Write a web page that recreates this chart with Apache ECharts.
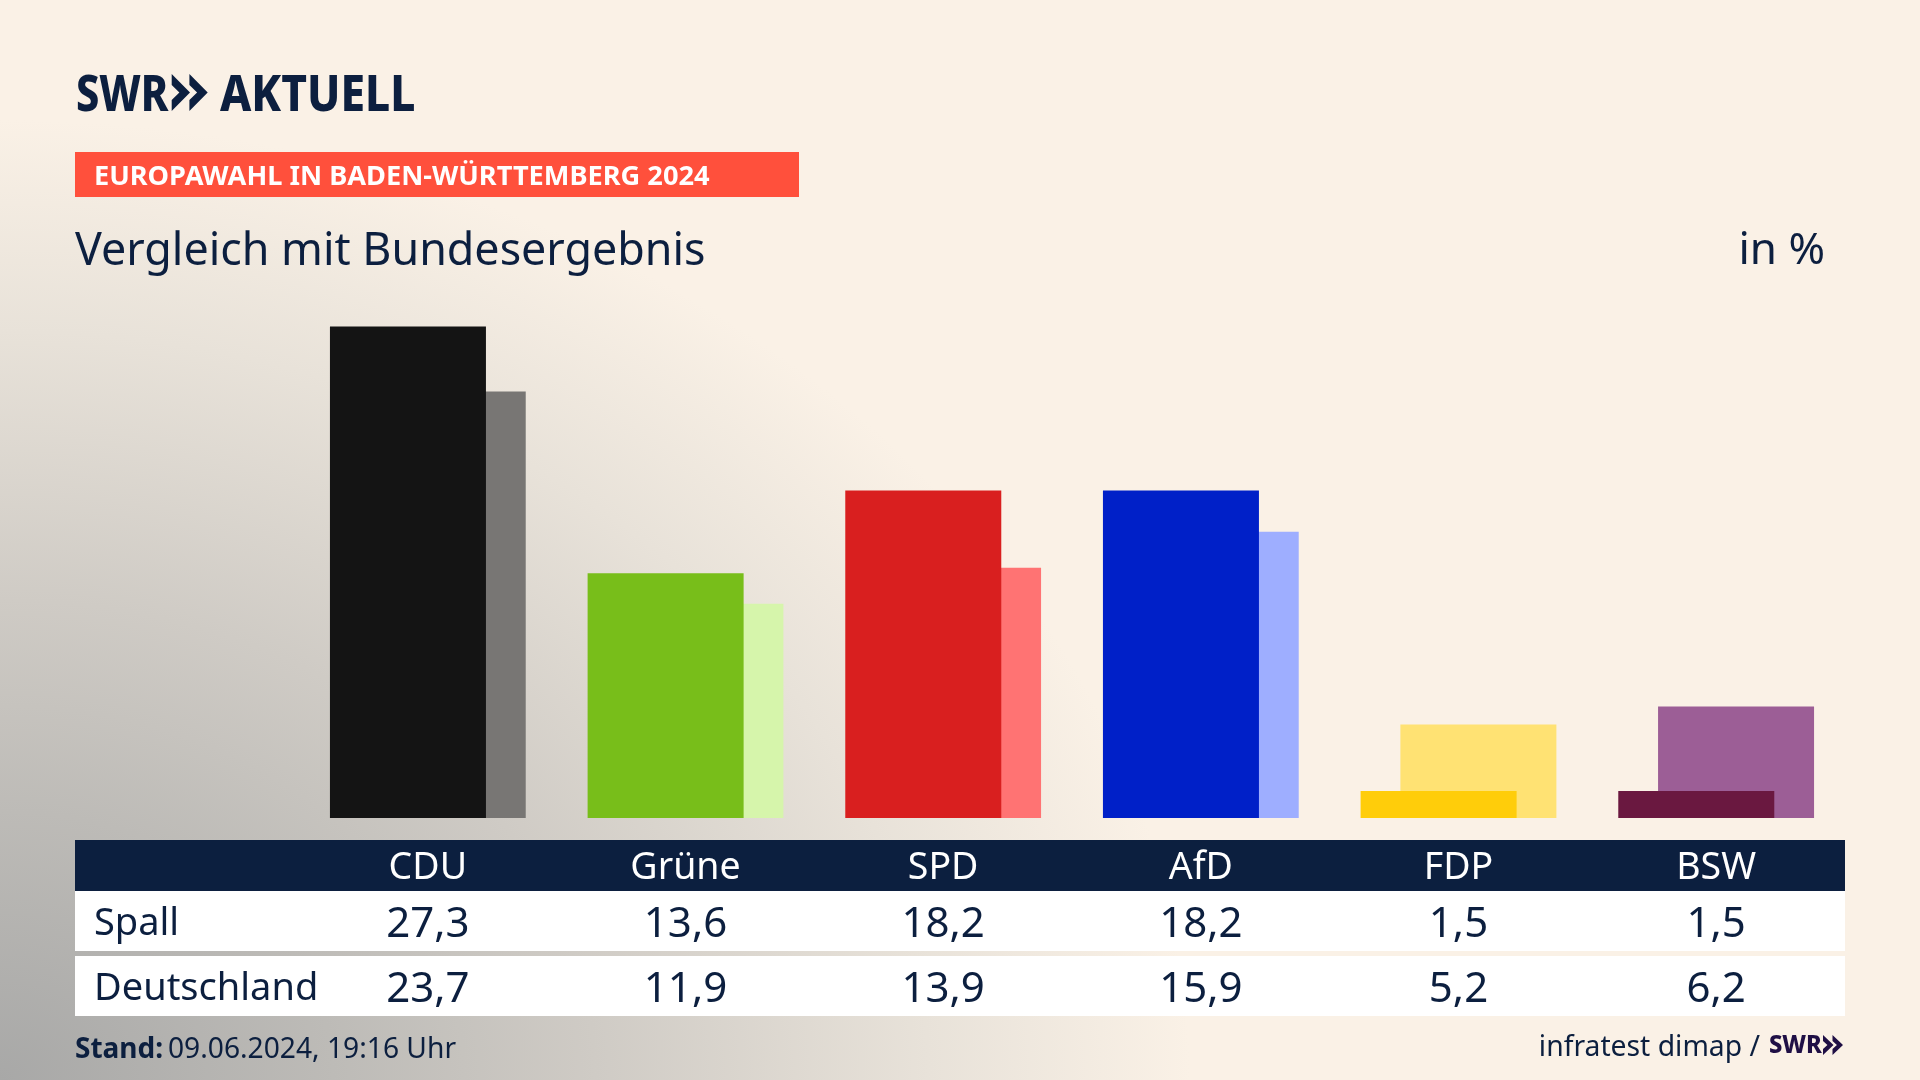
<!DOCTYPE html>
<html>
<head>
<meta charset="utf-8">
<title>Europawahl in Baden-Württemberg 2024</title>
<style>
  html, body { margin: 0; padding: 0; }
  #chart {
    width: 1920px;
    height: 1080px;
    background: radial-gradient(ellipse 1190px 960px at 0 1080px,
      #A8A8A7 0%, #BDBBB7 28%, #CFCBC5 50%, #E8E2D9 78%, #FAF1E6 100%) #FAF1E6;
  }
</style>
<script src="https://cdn.jsdelivr.net/npm/echarts@6/dist/echarts.min.js"></script>
</head>
<body>
<div id="chart"></div>
<script>
var categories = ['CDU', 'Grüne', 'SPD', 'AfD', 'FDP', 'BSW'];
var spall = [27.3, 13.6, 18.2, 18.2, 1.5, 1.5];
var deutschland = [23.7, 11.9, 13.9, 15.9, 5.2, 6.2];
var darkColors = ['#141414', '#78BE1A', '#D91F1F', '#0020C8', '#FFCD0A', '#6A1840'];
var lightColors = ['#787674', '#D6F5AB', '#FF7373', '#9EAEFF', '#FFE273', '#9C5E96'];

var navy = '#0C1F3F';
var font = '"Noto Sans", sans-serif';

function comma(v) {
  return v.toFixed(1).replace('.', ',');
}

function colored(values, colors) {
  return values.map(function(v, i) {
    return { value: v, itemStyle: { color: colors[i] } };
  });
}

function tableAxis(data, margin, fontSize, color) {
  return {
    type: 'category',
    data: data,
    position: 'bottom',
    z: 5,
    axisLine: { show: false },
    axisTick: { show: false },
    axisLabel: { interval: 0, margin: margin, fontFamily: font, fontSize: fontSize, color: color }
  };
}

function label(text, x, y, size, weight, color, align, scaleX) {
  return {
    type: 'text',
    z: 6,
    x: x,
    y: y,
    scaleX: scaleX || 1,
    style: {
      text: text, x: 0, y: 0, fill: color,
      font: weight + ' ' + size + 'px ' + font,
      textAlign: align || 'left',
      textVerticalAlign: 'middle'
    }
  };
}

function box(x, y, w, h, color) {
  return { type: 'rect', z: 1, shape: { x: x, y: y, width: w, height: h }, style: { fill: color } };
}

// SWR logo arrows
function chevrons(x, y, s, step, h, color) {
  return [0, step].map(function(dx) {
    var l = x + dx;
    return {
      type: 'polygon',
      z: 6,
      shape: { points: [
        [l, y], [l + s, y + h * 0.5], [l, y + h],
        [l, y + h * 0.7], [l + s * 0.42, y + h * 0.5], [l, y + h * 0.3]
      ] },
      style: { fill: color }
    };
  });
}

var chart = echarts.init(document.getElementById('chart'), null, { renderer: 'canvas' });

chart.setOption({
  animation: false,
  backgroundColor: 'transparent',
  grid: { left: 299, width: 1546, top: 278, height: 540 },
  xAxis: [
    tableAxis(categories, 31, 37.5, '#FFFFFF'),
    tableAxis(spall.map(comma), 86, 42, navy),
    tableAxis(deutschland.map(comma), 151, 42, navy)
  ],
  yAxis: { type: 'value', min: 0, max: 30, show: false },
  series: [
    {
      name: 'Spall', type: 'bar', xAxisIndex: 0, z: 3,
      barWidth: 156, barGap: '-74.5%',
      data: colored(spall, darkColors)
    },
    {
      name: 'Deutschland', type: 'bar', xAxisIndex: 0, z: 2,
      barWidth: 156,
      data: colored(deutschland, lightColors)
    }
  ],
  graphic: [
    box(75, 152, 724, 45, '#FF503C'),
    box(75, 840, 1770, 51, navy),
    box(75, 891, 1770, 60, '#FFFFFF'),
    box(75, 956, 1770, 60, '#FFFFFF'),
    label('SWR', 76, 97, 50, 800, navy, 'left', 0.83),
    label('AKTUELL', 220, 97, 50, 800, navy, 'left', 0.885),
    label('EUROPAWAHL IN BADEN-WÜRTTEMBERG 2024', 94, 177, 27.2, 700, '#FFFFFF'),
    label('Vergleich mit Bundesergebnis', 75, 252, 44.8, 400, navy),
    label('in %', 1825, 251, 44, 400, navy, 'right'),
    label('Spall', 94, 924, 38, 400, navy),
    label('Deutschland', 94, 989, 38, 400, navy),
    label('Stand:', 75, 1050, 28, 700, navy),
    label('09.06.2024, 19:16 Uhr', 168, 1050, 28.2, 400, navy),
    label('infratest dimap /', 1760, 1048, 28.3, 400, navy, 'right'),
    label('SWR', 1769, 1046, 25, 800, '#1F0F45', 'left', 0.95)
  ].concat(chevrons(171.7, 74, 18.3, 17.7, 37, navy), chevrons(1823, 1035, 10.5, 9.5, 20, '#1F0F45'))
});

window.addEventListener('resize', function() {
  chart.resize();
});
</script>
</body>
</html>
